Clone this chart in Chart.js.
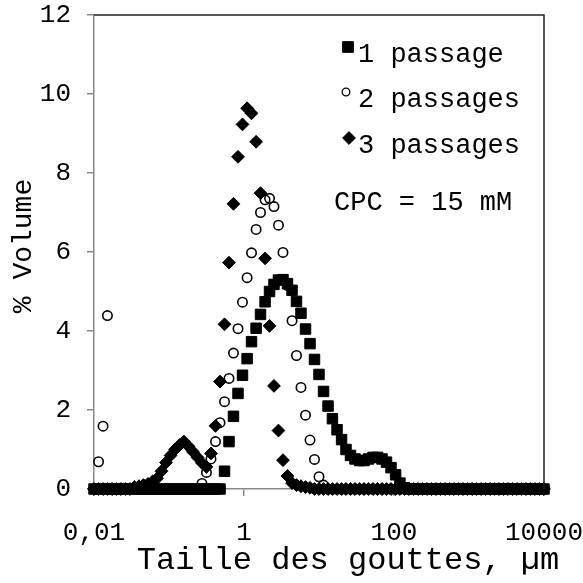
<!DOCTYPE html>
<html>
<head>
<meta charset="utf-8">
<script src="https://cdn.jsdelivr.net/npm/chart.js@4.4.0/dist/chart.umd.min.js"></script>
<style>
  html, body { margin: 0; padding: 0; background: #fff; }
</style>
</head>
<body>
<canvas id="myChart" width="583" height="583"></canvas>
<script>
// particle size classes (µm)
const sizes = [
  0.01, 0.0115, 0.0132, 0.0151, 0.0174, 0.02, 0.0229, 0.0263, 0.0302, 0.0347,
  0.0398, 0.0457, 0.0525, 0.0603, 0.0692, 0.0794, 0.0912, 0.105, 0.12, 0.138,
  0.158, 0.182, 0.209, 0.24, 0.275, 0.316, 0.363, 0.417, 0.479, 0.55,
  0.631, 0.724, 0.832, 0.955, 1.1, 1.26, 1.45, 1.66, 1.91, 2.19,
  2.51, 2.88, 3.31, 3.8, 4.37, 5.01, 5.75, 6.61, 7.59, 8.71,
  10, 11.5, 13.2, 15.1, 17.4, 20, 22.9, 26.3, 30.2, 34.7,
  39.8, 45.7, 52.5, 60.3, 69.2, 79.4, 91.2, 105, 120, 138,
  158, 182, 209, 240, 275, 316, 363, 417, 479, 550,
  631, 724, 832, 955, 1100, 1260, 1450, 1660, 1910, 2190,
  2510, 2880, 3310, 3800, 4370, 5010, 5750, 6610, 7590, 8710,
  10000
];

// % volume, 1 passage
const passage1 = [
  0, 0, 0, 0, 0, 0, 0, 0, 0, 0,
  0, 0, 0, 0, 0, 0, 0, 0, 0, 0,
  0, 0, 0, 0, 0, 0, 0, 0, 0, 0.45,
  1.2, 1.84, 2.42, 2.88, 3.3, 3.73, 4.07, 4.42, 4.74, 5.0,
  5.18, 5.29, 5.3, 5.2, 5.03, 4.75, 4.45, 4.05, 3.68, 3.28,
  2.9, 2.47, 2.1, 1.78, 1.5, 1.25, 1.0, 0.85, 0.76, 0.72,
  0.72, 0.76, 0.8, 0.8, 0.76, 0.68, 0.54, 0.36, 0.15, 0.03,
  0, 0, 0, 0, 0, 0, 0, 0, 0, 0,
  0, 0, 0, 0, 0, 0, 0, 0, 0, 0,
  0, 0, 0, 0, 0, 0, 0, 0, 0, 0,
  0
];

// % volume, 2 passages
const passage2 = [
  0, 0.69, 1.59, 4.39, 0, 0, 0, 0, 0, 0,
  0, 0, 0, 0, 0, 0, 0, 0, 0, 0,
  0, 0, 0, 0, 0.14, 0.42, 0.76, 1.2, 1.68, 2.21,
  2.8, 3.44, 4.06, 4.73, 5.35, 5.98, 6.57, 7.0, 7.32, 7.36,
  7.15, 6.68, 5.99, 5.15, 4.26, 3.38, 2.57, 1.87, 1.24, 0.75,
  0.31, 0.1, 0, 0, 0, 0, 0, 0, 0, 0,
  0, 0, 0, 0, 0, 0, 0, 0, 0, 0,
  0, 0, 0, 0, 0, 0, 0, 0, 0, 0,
  0, 0, 0, 0, 0, 0, 0, 0, 0, 0,
  0, 0, 0, 0, 0, 0, 0, 0, 0, 0,
  0
];

// % volume, 3 passages
const passage3 = [
  0, 0, 0, 0, 0, 0, 0, 0, 0, 0.05,
  0.07, 0.1, 0.13, 0.19, 0.27, 0.45, 0.67, 0.85, 1.0, 1.11,
  1.2, 1.08, 0.94, 0.8, 0.66, 0.56, 0.9, 1.6, 2.72, 4.17,
  5.73, 7.22, 8.41, 9.23, 9.64, 9.51, 8.79, 7.49, 5.84, 4.13,
  2.61, 1.48, 0.73, 0.33, 0.15, 0.1, 0.07, 0.05, 0.03, 0,
  0, 0, 0, 0, 0, 0, 0, 0, 0, 0,
  0, 0, 0, 0, 0, 0, 0, 0, 0, 0,
  0, 0, 0, 0, 0, 0, 0, 0, 0, 0,
  0, 0, 0, 0, 0, 0, 0, 0, 0, 0,
  0, 0, 0, 0, 0, 0, 0, 0, 0, 0,
  0
];

const seriesNames = ['1 passage', '2 passages', '3 passages'];
const xTicks = [0.01, 1, 100, 10000];
const yTicks = [0, 2, 4, 6, 8, 10, 12];
const note = 'CPC = 15 mM';
const xTitle = 'Taille des gouttes, µm';
const yTitle = '% Volume';

const FONT = "'Liberation Mono', 'Courier New', monospace";

function toPoints(values) {
  return values.map((v, i) => ({ x: sizes[i], y: v }));
}

const styles = [
  { pointStyle: 'rect', radius: 7.4, fill: '#000', border: '#000', bw: 1 },
  { pointStyle: 'circle', radius: 4.7, fill: 'rgba(0,0,0,0)', border: '#000', bw: 1.6 },
  { pointStyle: 'rectRot', radius: 6.4, fill: '#000', border: '#000', bw: 1 }
];

const decor = {
  id: 'decor',
  afterDatasetsDraw(chart) {
    const { ctx, chartArea: a } = chart;
    ctx.save();
    // top / right frame
    ctx.strokeStyle = '#222';
    ctx.lineWidth = 1.5;
    ctx.beginPath();
    ctx.moveTo(a.left, a.top);
    ctx.lineTo(a.right, a.top);
    ctx.lineTo(a.right, a.bottom);
    ctx.stroke();

    // legend inside the plot
    const legendMarks = [
      { x: 348, y: 47, r: 7.6 },
      { x: 346, y: 92, r: 3.8 },
      { x: 349, y: 138, r: 6.4 }
    ];
    const baselines = [62, 107, 153];
    ctx.font = '27px ' + FONT;
    ctx.textBaseline = 'alphabetic';
    ctx.textAlign = 'left';
    seriesNames.forEach((name, k) => {
      const m = legendMarks[k];
      ctx.fillStyle = styles[k].fill;
      ctx.strokeStyle = '#000';
      ctx.lineWidth = k === 1 ? 1.3 : 1;
      Chart.helpers.drawPoint(ctx, { pointStyle: styles[k].pointStyle, radius: m.r, rotation: 0, borderWidth: ctx.lineWidth }, m.x, m.y);
      ctx.fillStyle = '#000';
      ctx.fillText(name, 358, baselines[k]);
    });
    ctx.fillText(note, 334, 210);

    // axis titles
    ctx.font = '32px ' + FONT;
    ctx.textAlign = 'center';
    ctx.fillText(xTitle, 348, 569);

    ctx.font = '28px ' + FONT;
    ctx.translate(31, 246);
    ctx.rotate(-Math.PI / 2);
    ctx.fillText(yTitle, 0, 0);
    ctx.restore();
  }
};

const ctx = document.getElementById('myChart');
new Chart(ctx, {
  type: 'scatter',
  data: {
    datasets: [passage1, passage2, passage3].map((vals, k) => ({
      label: seriesNames[k],
      data: toPoints(vals),
      pointStyle: styles[k].pointStyle,
      pointRadius: styles[k].radius,
      pointBackgroundColor: styles[k].fill,
      pointBorderColor: styles[k].border,
      pointBorderWidth: styles[k].bw,
      showLine: false,
      clip: false,
      order: 2 - k
    }))
  },
  options: {
    responsive: false,
    devicePixelRatio: 1,
    animation: false,
    events: [],
    layout: { padding: { top: 15, right: 39, left: 0, bottom: 0 } },
    plugins: {
      legend: { display: false },
      tooltip: { enabled: false }
    },
    scales: {
      x: {
        type: 'logarithmic',
        min: 0.01,
        max: 10000,
        afterBuildTicks: (axis) => { axis.ticks = xTicks.map(v => ({ value: v })); },
        afterFit: (axis) => { axis.height = 94; axis.paddingLeft = 0; axis.paddingRight = 0; },
        grid: { drawOnChartArea: false, drawTicks: true, tickLength: 7, color: '#8a8a8a', lineWidth: 1.5 },
        border: { display: true, color: '#8a8a8a', width: 1.5 },
        ticks: {
          autoSkip: false,
          maxRotation: 0,
          padding: 22,
          color: '#000',
          font: { family: FONT, size: 26 },
          callback: (v) => String(v).replace('.', ',')
        }
      },
      y: {
        min: 0,
        max: 12,
        afterBuildTicks: (axis) => { axis.ticks = yTicks.map(v => ({ value: v })); },
        afterFit: (axis) => { axis.width = 94; axis.paddingTop = 0; axis.paddingBottom = 0; },
        grid: { drawOnChartArea: false, drawTicks: true, tickLength: 7, color: '#8a8a8a', lineWidth: 1.5 },
        border: { display: true, color: '#8a8a8a', width: 1.5 },
        ticks: {
          padding: 16,
          color: '#000',
          font: { family: FONT, size: 26 }
        }
      }
    }
  },
  plugins: [decor]
});
</script>
</body>
</html>
